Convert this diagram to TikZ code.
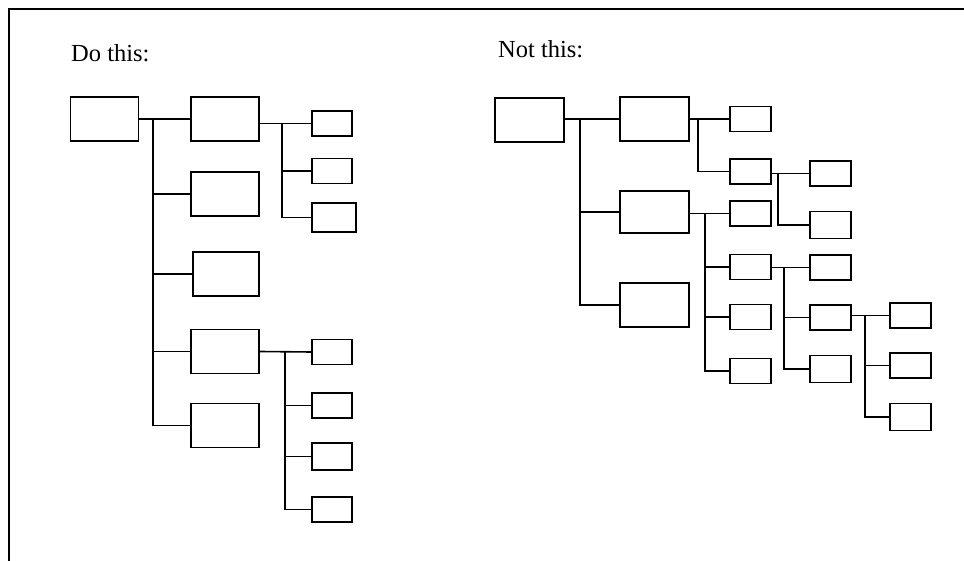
\documentclass[tikz,border=0pt]{standalone}
\usepackage{fontspec}
\setmainfont{Liberation Serif}
\begin{document}
\begin{tikzpicture}[x=1pt,y=-1pt,
  box/.style={draw, rectangle, inner sep=0pt, line width=1.6pt},
  bigbox/.style={box, minimum width=68pt, minimum height=44pt},
  smallbox/.style={box, minimum width=40pt, minimum height=25pt},
  link/.style={line width=1.6pt},
  label/.style={anchor=base west, inner sep=0pt, font=\fontsize{24.5}{28}\selectfont}]
\useasboundingbox (0,0) rectangle (964,561);
\draw[line width=2.2pt] (9,561) -- (9,9) -- (964,9);

% ---------- left: Do this ----------
\node[label] (t1) at (71,62) {Do this:};
\node[bigbox] (r) at (104.5,119) {};
\node[bigbox] (b1) at (225,119) {};
\node[bigbox] (b2) at (225,194) {};
\node[bigbox, minimum width=66pt] (b3) at (226,274) {};
\node[bigbox] (b4) at (225,351.5) {};
\node[bigbox] (b5) at (225,425.5) {};
\node[smallbox] (s1) at (332,123.5) {};
\node[smallbox] (s2) at (332,171) {};
\node[smallbox, minimum width=44pt, minimum height=29pt] (s3) at (334,217.5) {};
\node[smallbox] (s4) at (332,352) {};
\node[smallbox] (s5) at (332,405.5) {};
\node[smallbox, minimum height=27pt] (s6) at (332,456.5) {};
\node[smallbox] (s7) at (332,509.5) {};
\coordinate (va) at (153,0);
\coordinate (vb) at (282,0);
\coordinate (vc) at (285,0);

\draw[link] (r.east) -- (b1.west);
\draw[link] (va |- r.east) -- (va |- b5.west) -- (b5.west);
\foreach \n in {b2,b3,b4} \draw[link] (va |- \n.west) -- (\n.west);

\draw[link] (s1.west -| b1.east) -- (s1.west);
\draw[link] (vb |- s1.west) -- (vb |- s3.west) -- (s3.west);
\draw[link] (vb |- s2.west) -- (s2.west);

\draw[link] (b4.east) -- (s4.west);
\draw[link] (vc |- s4.west) -- (vc |- s7.west) -- (s7.west);
\foreach \n in {s5,s6} \draw[link] (vc |- \n.west) -- (\n.west);

% ---------- right: Not this ----------
\node[label] (t2) at (498,58) {Not this:};
\node[bigbox, minimum width=69pt] (rr) at (529.5,120) {};
\node[bigbox, minimum width=69pt] (c1) at (654.5,119) {};
\node[bigbox, minimum width=69pt, minimum height=42pt] (c2) at (654.5,212) {};
\node[bigbox, minimum width=69pt] (c3) at (654.5,305) {};
\node[smallbox, minimum width=41pt] (d1) at (750.5,119) {};
\node[smallbox, minimum width=41pt] (d2) at (750.5,171.5) {};
\node[smallbox, minimum width=41pt] (d3) at (750.5,213.5) {};
\node[smallbox, minimum width=41pt] (d4) at (750.5,267) {};
\node[smallbox, minimum width=41pt] (d5) at (750.5,317) {};
\node[smallbox, minimum width=41pt] (d6) at (750.5,371) {};
\node[smallbox, minimum width=41pt] (e1) at (830.5,173.5) {};
\node[smallbox, minimum width=41pt, minimum height=27pt] (e2) at (830.5,225) {};
\node[smallbox, minimum width=41pt] (f1) at (830.5,267.5) {};
\node[smallbox, minimum width=41pt] (f2) at (830.5,317.5) {};
\node[smallbox, minimum width=41pt, minimum height=27pt] (f3) at (830.5,369) {};
\node[smallbox, minimum width=41pt] (g1) at (910.5,315.5) {};
\node[smallbox, minimum width=41pt] (g2) at (910.5,365.5) {};
\node[smallbox, minimum width=41pt, minimum height=27pt] (g3) at (910.5,417) {};
\coordinate (wa) at (580,0);
\coordinate (wb) at (698,0);
\coordinate (wc) at (778,0);
\coordinate (wd) at (705,0);
\coordinate (we) at (784,0);
\coordinate (wf) at (865,0);

\draw[link] (c1.west -| rr.east) -- (c1.west);
\draw[link] (wa |- c1.west) -- (wa |- c3.west) -- (c3.west);
\draw[link] (wa |- c2.west) -- (c2.west);

\draw[link] (d1.west -| c1.east) -- (d1.west);
\draw[link] (wb |- d1.west) -- (wb |- d2.west) -- (d2.west);

\draw[link] (e1.west -| d2.east) -- (e1.west);
\draw[link] (wc |- e1.west) -- (wc |- e2.west) -- (e2.west);

\draw[link] (d3.west -| c2.east) -- (d3.west);
\draw[link] (wd |- d3.west) -- (wd |- d6.west) -- (d6.west);
\foreach \n in {d4,d5} \draw[link] (wd |- \n.west) -- (\n.west);

\draw[link] (f1.west -| d4.east) -- (f1.west);
\draw[link] (we |- f1.west) -- (we |- f3.west) -- (f3.west);
\draw[link] (we |- f2.west) -- (f2.west);

\draw[link] (g1.west -| f2.east) -- (g1.west);
\draw[link] (wf |- g1.west) -- (wf |- g3.west) -- (g3.west);
\draw[link] (wf |- g2.west) -- (g2.west);
\end{tikzpicture}
\end{document}
